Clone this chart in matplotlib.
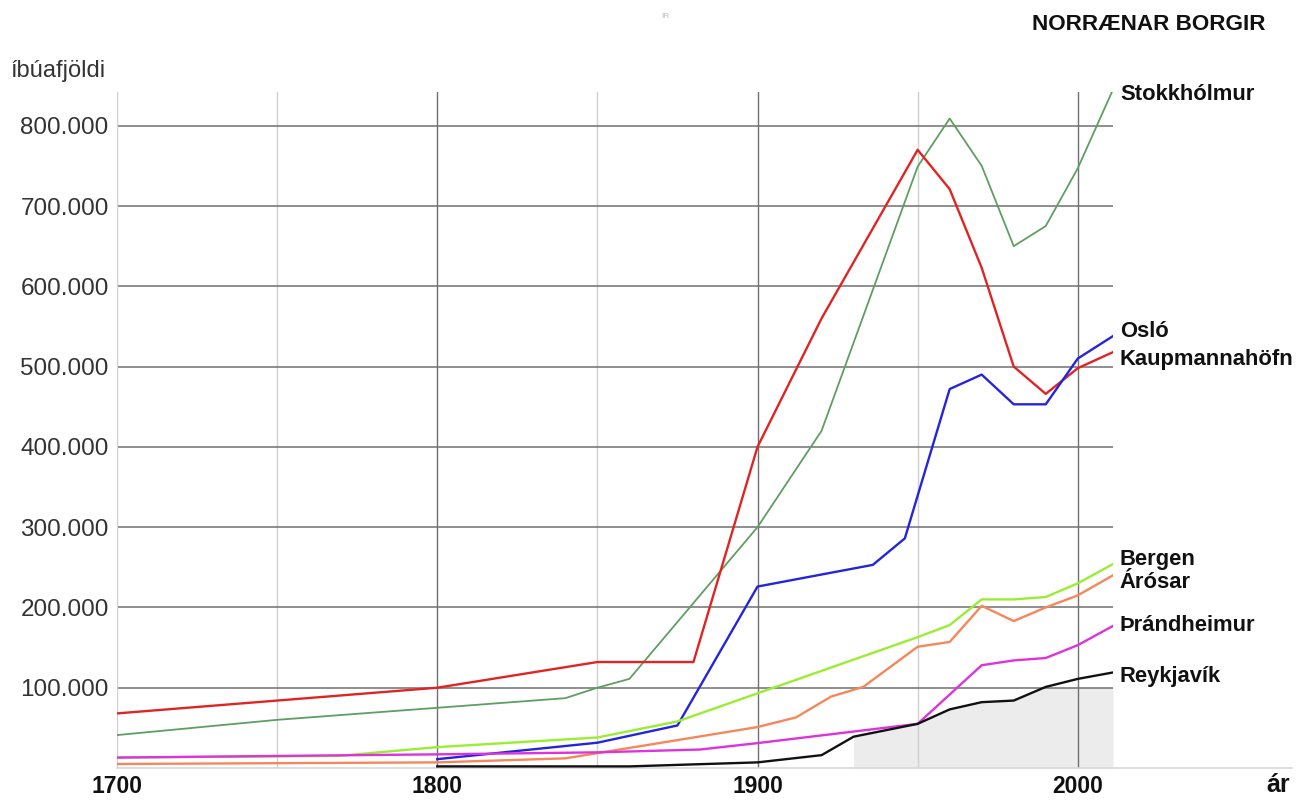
import matplotlib.pyplot as plt

plt.rcParams['font.family'] = ['Liberation Sans', 'DejaVu Sans']

# data (population)
stokk_years = [1700, 1750, 1800, 1840, 1850, 1860, 1900, 1920, 1950, 1960, 1970, 1980, 1990, 2000, 2011]
stokk_pop = [41000, 60000, 75000, 87000, 100000, 111000, 300000, 420000, 749000, 809000, 750000, 650000, 675000, 747000, 845000]

kaup_years = [1700, 1800, 1850, 1880, 1900, 1920, 1950, 1960, 1970, 1980, 1990, 2000, 2011]
kaup_pop = [68000, 100000, 132000, 132000, 400000, 560000, 770000, 721000, 623000, 500000, 466000, 498000, 518000]

oslo_years = [1800, 1850, 1875, 1900, 1936, 1946, 1960, 1970, 1980, 1990, 2000, 2011]
oslo_pop = [11000, 31500, 53000, 226000, 253000, 286000, 472000, 490000, 453000, 453000, 510000, 538000]

bergen_years = [1700, 1769, 1800, 1850, 1875, 1900, 1950, 1960, 1970, 1980, 1990, 2000, 2011]
bergen_pop = [13000, 15000, 26000, 38000, 58000, 93000, 163000, 178000, 210000, 210000, 213000, 230000, 254000]

aros_years = [1700, 1800, 1840, 1900, 1912, 1923, 1933, 1950, 1960, 1970, 1980, 1990, 2000, 2011]
aros_pop = [5000, 7000, 12000, 51000, 63000, 89000, 101000, 151000, 157000, 202000, 183000, 200000, 215000, 240000]

thr_years = [1700, 1800, 1850, 1882, 1900, 1950, 1970, 1980, 1990, 2000, 2011]
thr_pop = [13000, 17000, 19500, 23000, 31000, 55000, 128000, 134000, 137000, 153000, 177000]

rvk_years = [1800, 1860, 1900, 1920, 1930, 1950, 1960, 1970, 1980, 1990, 2000, 2011]
rvk_pop = [2000, 2000, 7000, 16000, 39000, 55000, 73000, 82000, 84000, 101000, 111000, 119000]

series = [
    ('Stokkhólmur', stokk_years, stokk_pop, '#5f9e63', 1.3, -3.5),
    ('Kaupmannahöfn', kaup_years, kaup_pop, '#e02424', 1.7, -5),
    ('Osló', oslo_years, oslo_pop, '#2424dd', 1.7, 3),
    ('Bergen', bergen_years, bergen_pop, '#99ee33', 1.7, 3),
    ('Árósar', aros_years, aros_pop, '#f4875c', 1.7, -5),
    ('Þrándheimur', thr_years, thr_pop, '#dd33dd', 1.7, 0),
    ('Reykjavík', rvk_years, rvk_pop, '#111111', 1.7, -3),
]

yticks = [100000, 200000, 300000, 400000, 500000, 600000, 700000, 800000]
ytick_labels = ['100.000', '200.000', '300.000', '400.000', '500.000', '600.000', '700.000', '800.000']
xticks = [1700, 1800, 1900, 2000]

fig = plt.figure(figsize=(13.1, 8), dpi=100)
ax = fig.add_axes([117/1310, 1 - 768/800, 996/1310, 676/800])
ax.set_xlim(1700, 2011)
ax.set_ylim(0, 842000)

# grid
for yr in [1750, 1850, 1950]:
    ax.axvline(yr, color='#d0d0d0', lw=1.0, zorder=1)
for yr in [1800, 1900, 2000]:
    ax.axvline(yr, color='#707070', lw=1.0, zorder=1)
for v in yticks:
    ax.axhline(v, color='#707070', lw=1.1, zorder=1)
ax.axvline(1700, color='#d0d0d0', lw=1.0, zorder=1)
ax.plot([0, 1175/996], [0, 0], transform=ax.get_yaxis_transform(), color='#d8d8d8',
        lw=1.2, clip_on=False, zorder=1)

# grey area under Reykjavik, capped at 100.000
capped = [min(p, 100000) for p in rvk_pop]
ax.fill_between(rvk_years, 0, capped, where=[y >= 1930 for y in rvk_years],
                color='#ececec', lw=0, zorder=0)

for name, xs, ys, col, lw, off in series:
    ax.plot(xs, ys, color=col, lw=lw, zorder=3)
    ax.annotate(name, (xs[-1], ys[-1]), xytext=(5, off), textcoords='offset points',
                fontsize=15.8, fontweight='bold', color='#111111', va='center', ha='left',
                annotation_clip=False)

for s in ax.spines.values():
    s.set_visible(False)
ax.set_yticks(yticks)
ax.set_yticklabels(ytick_labels)
ax.set_xticks(xticks)
ax.set_xticklabels([str(x) for x in xticks], fontweight='bold')
ax.tick_params(axis='y', length=0, labelsize=17.5, pad=6, labelcolor='#333333')
ax.tick_params(axis='x', length=0, labelsize=16.5, pad=5, labelcolor='#111111')

fig.text(10/1310, 1 - 71/800, 'íbúafjöldi', fontsize=17, color='#333333', va='center')
fig.text(1265/1310, 1 - 25/800, 'NORRÆNAR BORGIR', fontsize=16.2, fontweight='bold',
         color='#111111', ha='right', va='center')
fig.text(1278/1310, 1 - 785/800, 'ár', fontsize=18, fontweight='bold', color='#111111',
         ha='center', va='center')
fig.text(665/1310, 1 - 17/800, 'IR', fontsize=6, color='#c0c0c0', ha='center', va='center')

fig.savefig('out.png', dpi=100, facecolor='white')
